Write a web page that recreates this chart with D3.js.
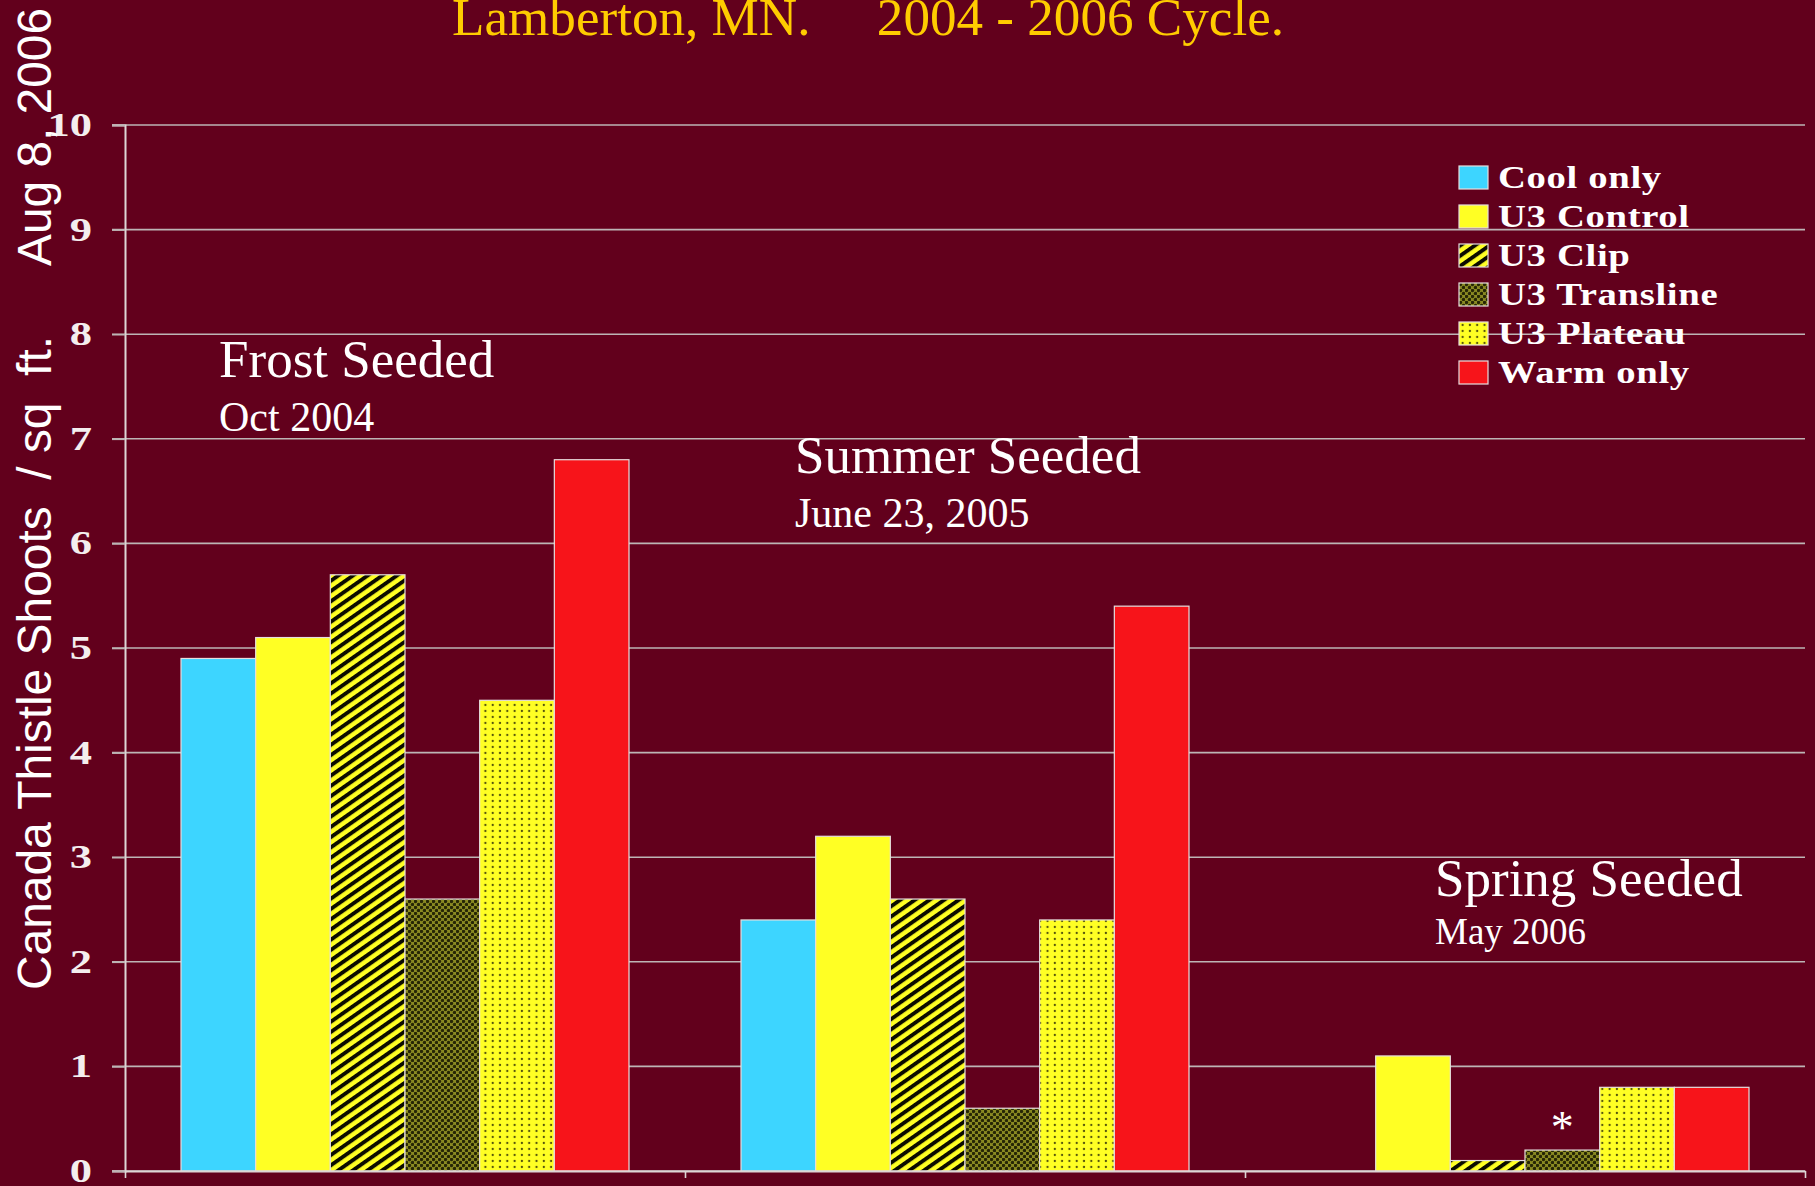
<!DOCTYPE html>
<html>
<head>
<meta charset="utf-8">
<script src="https://cdn.jsdelivr.net/npm/d3@7"></script>
<style>
  html, body { margin: 0; padding: 0; background: #62001c; }
  svg { display: block; }
</style>
</head>
<body>
<div id="chart"></div>
<script>
// data
var categories = ["Frost", "Summer", "Spring"];
var seriesNames = ["Cool only", "U3 Control", "U3 Clip", "U3 Transline", "U3 Plateau", "Warm only"];
var coolOnly = [4.9, 2.4, 0];
var u3Control = [5.1, 3.2, 1.1];
var u3Clip = [5.7, 2.6, 0.1];
var u3Transline = [2.6, 0.6, 0.2];
var u3Plateau = [4.5, 2.4, 0.8];
var warmOnly = [6.8, 5.4, 0.8];
var groupTitles = ["Frost Seeded", "Summer Seeded", "Spring Seeded"];
var groupDates = ["Oct 2004", "June 23, 2005", "May 2006"];
var yTickValues = [0, 1, 2, 3, 4, 5, 6, 7, 8, 9, 10];

var allValues = [coolOnly, u3Control, u3Clip, u3Transline, u3Plateau, warmOnly];

var width = 1815, height = 1186;
var plotLeft = 125, plotRight = 1805, plotTop = 125, plotBottom = 1171;

var svg = d3.select("#chart").append("svg")
    .attr("width", width)
    .attr("height", height);

svg.append("rect").attr("width", width).attr("height", height).attr("fill", "#62001c");

// patterns
var defs = svg.append("defs");

var clip = defs.append("pattern")
    .attr("id", "pat-clip")
    .attr("patternUnits", "userSpaceOnUse")
    .attr("width", 20).attr("height", 8.4)
    .attr("patternTransform", "rotate(-35)");
clip.append("rect").attr("width", 20).attr("height", 8.4).attr("fill", "#ffff24");
clip.append("rect").attr("y", 0).attr("width", 20).attr("height", 3.9).attr("fill", "#0c0c00");

var trans = defs.append("pattern")
    .attr("id", "pat-trans")
    .attr("patternUnits", "userSpaceOnUse")
    .attr("width", 6).attr("height", 6);
trans.append("rect").attr("width", 6).attr("height", 6).attr("fill", "#8a8a22");
trans.append("circle").attr("cx", 1.5).attr("cy", 1.5).attr("r", 1.7).attr("fill", "#262605");
trans.append("circle").attr("cx", 4.5).attr("cy", 4.5).attr("r", 1.7).attr("fill", "#262605");

var plat = defs.append("pattern")
    .attr("id", "pat-plat")
    .attr("patternUnits", "userSpaceOnUse")
    .attr("width", 7.3).attr("height", 6);
plat.append("rect").attr("width", 7.3).attr("height", 6).attr("fill", "#ffff24");
plat.append("circle").attr("cx", 3.6).attr("cy", 3).attr("r", 1.15).attr("fill", "#55550c");

var fills = ["#3dd5ff", "#ffff24", "url(#pat-clip)", "url(#pat-trans)", "url(#pat-plat)", "#f7141a"];

// scales
var x0 = d3.scaleBand().domain(categories).range([plotLeft, plotRight]).paddingInner(0).paddingOuter(0);
var x1 = d3.scaleBand().domain(seriesNames).range([0, x0.bandwidth()]).paddingInner(0).paddingOuter(0.75);
var y = d3.scaleLinear().domain([0, 10]).range([plotBottom, plotTop]);

// gridlines
svg.append("g")
    .selectAll("line")
    .data(yTickValues)
    .enter()
    .append("line")
    .attr("x1", plotLeft - 13)
    .attr("x2", plotRight)
    .attr("y1", function(d) { return y(d); })
    .attr("y2", function(d) { return y(d); })
    .attr("stroke", "#bdb5b5")
    .attr("stroke-width", 1.6);

// bars
var rows = [];
categories.forEach(function(c, i) {
    seriesNames.forEach(function(s, j) {
        rows.push({ cat: c, series: s, idx: j, value: allValues[j][i] });
    });
});

svg.append("g")
    .selectAll("rect")
    .data(rows.filter(function(d) { return d.value > 0; }))
    .enter()
    .append("rect")
    .attr("x", function(d) { return x0(d.cat) + x1(d.series); })
    .attr("y", function(d) { return y(d.value); })
    .attr("width", x1.bandwidth())
    .attr("height", function(d) { return y(0) - y(d.value); })
    .attr("fill", function(d) { return fills[d.idx]; })
    .attr("stroke", "#e6dede")
    .attr("stroke-width", 1.2);

// y axis
var yAxis = svg.append("g")
    .attr("transform", "translate(" + plotLeft + ",0)")
    .call(d3.axisLeft(y).tickValues(yTickValues).tickSize(13).tickPadding(11.5).tickFormat(d3.format("d")));
yAxis.select(".domain").attr("stroke", "#ddd5d5").attr("stroke-width", 2);
yAxis.selectAll(".tick line").attr("stroke", "#bdb5b5").attr("stroke-width", 1.6);
yAxis.selectAll("text")
    .attr("fill", "#f4eeee")
    .attr("transform", "scale(1.35,1)")
    .style("font-family", "'Liberation Serif', 'Times New Roman', serif")
    .style("font-weight", "bold")
    .style("font-size", "33px");

// x axis with ticks on the category boundaries
var xb = d3.scaleLinear().domain([0, categories.length]).range([plotLeft, plotRight]);
var xAxis = svg.append("g")
    .attr("transform", "translate(0," + plotBottom + ")")
    .call(d3.axisBottom(xb).tickValues([0, 1, 2, 3]).tickSize(7).tickSizeOuter(0).tickFormat(""));
xAxis.select(".domain").attr("stroke", "#ddd5d5").attr("stroke-width", 2);
xAxis.selectAll(".tick line").attr("stroke", "#ddd5d5").attr("stroke-width", 1.6);

// title
svg.append("text")
    .attr("x", 452)
    .attr("y", 35)
    .attr("textLength", 832)
    .attr("lengthAdjust", "spacingAndGlyphs")
    .style("white-space", "pre")
    .style("font-family", "'Liberation Serif', 'Times New Roman', serif")
    .style("font-size", "53px")
    .attr("fill", "#ffcc00")
    .text("Lamberton, MN.     2004 - 2006 Cycle.");

// y axis title
svg.append("text")
    .attr("transform", "translate(51,990) rotate(-90)")
    .attr("textLength", 654)
    .attr("lengthAdjust", "spacingAndGlyphs")
    .style("white-space", "pre")
    .style("font-family", "'Liberation Sans', Arial, sans-serif")
    .style("font-size", "48px")
    .attr("fill", "#ffffff")
    .text("Canada Thistle Shoots  / sq  ft.");
svg.append("text")
    .attr("transform", "translate(51,266) rotate(-90)")
    .attr("textLength", 258)
    .attr("lengthAdjust", "spacingAndGlyphs")
    .style("font-family", "'Liberation Sans', Arial, sans-serif")
    .style("font-size", "48px")
    .attr("fill", "#ffffff")
    .text("Aug 8, 2006");

// group annotations
var notePos = [
    { dx: 94, ty: 7.59, dy: 7.07, dateSize: 42 },
    { dx: 110, ty: 6.67, dy: 6.16, dateSize: 42 },
    { dx: 190, ty: 2.63, dy: 2.17, dateSize: 37 }
];
categories.forEach(function(c, i) {
    var p = notePos[i];
    svg.append("text")
        .attr("x", x0(c) + p.dx)
        .attr("y", y(p.ty))
        .style("font-family", "'Liberation Serif', 'Times New Roman', serif")
        .style("font-size", "53px")
        .attr("fill", "#ffffff")
        .text(groupTitles[i]);
    svg.append("text")
        .attr("x", x0(c) + p.dx)
        .attr("y", y(p.dy))
        .style("font-family", "'Liberation Serif', 'Times New Roman', serif")
        .style("font-size", p.dateSize + "px")
        .attr("fill", "#ffffff")
        .text(groupDates[i]);
});

// asterisk over the spring transline bar
svg.append("text")
    .attr("x", x0("Spring") + x1("U3 Transline") + x1.bandwidth() / 2)
    .attr("y", y(u3Transline[2]) - 7)
    .attr("text-anchor", "middle")
    .style("font-family", "'Liberation Serif', 'Times New Roman', serif")
    .style("font-size", "46px")
    .attr("fill", "#ffffff")
    .text("*");

// legend
var legend = svg.append("g").attr("transform", "translate(1459,166)");
var item = legend.selectAll("g")
    .data(seriesNames)
    .enter()
    .append("g")
    .attr("transform", function(d, i) { return "translate(0," + (i * 39) + ")"; });
item.append("rect")
    .attr("width", 29)
    .attr("height", 23)
    .attr("fill", function(d, i) { return fills[i]; })
    .attr("stroke", "#e6dede")
    .attr("stroke-width", 1.2);
item.append("text")
    .attr("transform", "translate(39,22) scale(1.25,1)")
    .style("font-family", "'Liberation Serif', 'Times New Roman', serif")
    .style("font-weight", "bold")
    .style("font-size", "31px")
    .style("letter-spacing", "0.5px")
    .attr("fill", "#ffffff")
    .text(function(d) { return d; });
</script>
</body>
</html>
